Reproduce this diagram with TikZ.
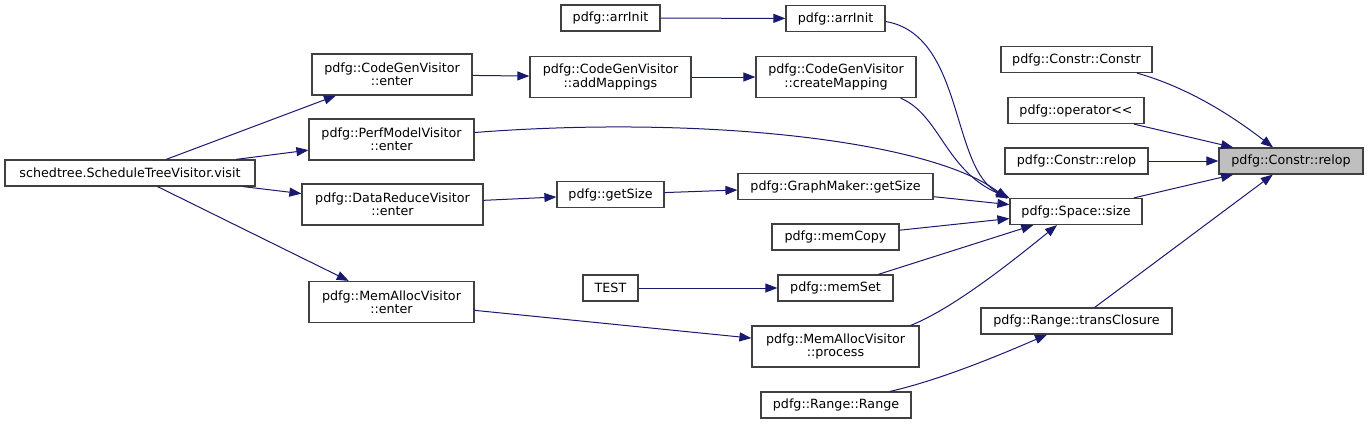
\documentclass[tikz,border=0pt]{standalone}
\usepackage{fontspec}
\setmainfont{DejaVu Sans}[Ligatures=TeXOff]
\usetikzlibrary{arrows.meta}
\definecolor{edgec}{HTML}{191970}
\definecolor{boxc}{HTML}{404040}
\definecolor{tgtc}{HTML}{BFBFBF}
\begin{document}
\begin{tikzpicture}[x=1pt,y=-1pt,
  box/.style={draw=boxc,line width=1.2pt,fill=white,inner sep=0pt,align=center,
    font=\fontsize{12.7}{13.4}\selectfont,minimum height=26pt},
  tall/.style={minimum height=41pt},
  call/.style={draw=edgec,line width=1pt,-{Triangle[length=12pt,width=9pt]}}]
\useasboundingbox (0,0) rectangle (1368,424);
% nodes
\node[box,minimum width=250pt] (visit) at (130,173) {schedtree.ScheduleTreeVisitor.visit};
\node[box,tall,minimum width=160pt] (cge) at (392,74.5) {pdfg::CodeGenVisitor\\::enter};
\node[box,tall,minimum width=165pt] (pme) at (391.5,139.5) {pdfg::PerfModelVisitor\\::enter};
\node[box,tall,minimum width=181pt] (dre) at (392.5,204.5) {pdfg::DataReduceVisitor\\::enter};
\node[box,tall,minimum width=165pt] (mae) at (391.5,302) {pdfg::MemAllocVisitor\\::enter};
\node[box,minimum width=99pt] (arrA) at (610.5,18) {pdfg::arrInit};
\node[box,minimum width=99pt] (arrB) at (835.5,18.5) {pdfg::arrInit};
\node[box,tall,minimum width=161pt] (addm) at (610.5,77) {pdfg::CodeGenVisitor\\::addMappings};
\node[box,tall,minimum width=160pt] (crm) at (836,77) {pdfg::CodeGenVisitor\\::createMapping};
\node[box,minimum width=107pt] (gs) at (610.5,194.5) {pdfg::getSize};
\node[box,minimum width=195pt] (gmgs) at (835.5,186.5) {pdfg::GraphMaker::getSize};
\node[box,minimum width=127pt] (mcp) at (835.5,237) {pdfg::memCopy};
\node[box,minimum width=55pt] (test) at (610.5,288) {TEST};
\node[box,minimum width=115pt] (mset) at (835.5,288) {pdfg::memSet};
\node[box,tall,minimum width=167pt] (map) at (835.5,346.5) {pdfg::MemAllocVisitor\\::process};
\node[box,minimum width=150pt] (rr) at (836,405) {pdfg::Range::Range};
\node[box,minimum width=151pt] (cc) at (1076.5,59.5) {pdfg::Constr::Constr};
\node[box,minimum width=136pt] (op) at (1076,110.5) {pdfg::operator<<};
\node[box,minimum width=143pt] (crl) at (1076.5,161) {pdfg::Constr::relop};
\node[box,minimum width=144pt,fill=tgtc] (tgt) at (1291,161) {pdfg::Constr::relop};
\node[box,minimum width=132pt] (ss) at (1076,211.5) {pdfg::Space::size};
\node[box,minimum width=191pt] (tc) at (1076.5,321) {pdfg::Range::transClosure};
% edges
\draw[call] (visit) -- (cge);
\draw[call] (visit) -- (pme);
\draw[call] (visit) -- (dre);
\draw[call] (visit) -- (mae);
\draw[call] (cge) -- (addm);
\draw[call] (addm) -- (crm);
\draw[call] (arrA) -- (arrB);
\draw[call] (dre) -- (gs);
\draw[call] (gs) -- (gmgs);
\draw[call] (test) -- (mset);
\draw[call] (mae) -- (map);
\draw[call] ([yshift=-3pt]arrB.east) .. controls (965,35) and (950,170) .. (ss.north west);
\draw[call] ([xshift=-16pt]crm.south east) .. controls (940,115) and (945,170) .. ([xshift=-1pt]ss.north west);
\draw[call] ([yshift=7pt]pme.east) .. controls (700,115) and (930,140) .. ([xshift=-2pt,yshift=-1pt]ss.north west);
\draw[call] (gmgs) -- (ss);
\draw[call] (mcp) -- (ss);
\draw[call] (mset) -- (ss);
\draw[call] ([xshift=-9pt]map.north east) .. controls (955,308) and (1020,255) .. ([xshift=-19pt]ss.south);
\draw[call] ([xshift=54pt]rr.north) .. controls (940,380) and (1000,355) .. ([xshift=-29.5pt]tc.south);
\draw[call] ([xshift=60.5pt]cc.south) .. controls (1190,88) and (1235,118) .. ([xshift=-18pt]tgt.north);
\draw[call] (op) -- (tgt);
\draw[call] (crl) -- (tgt);
\draw[call] (ss) -- (tgt);
\draw[call] (tc) -- (tgt);
\end{tikzpicture}
\end{document}
